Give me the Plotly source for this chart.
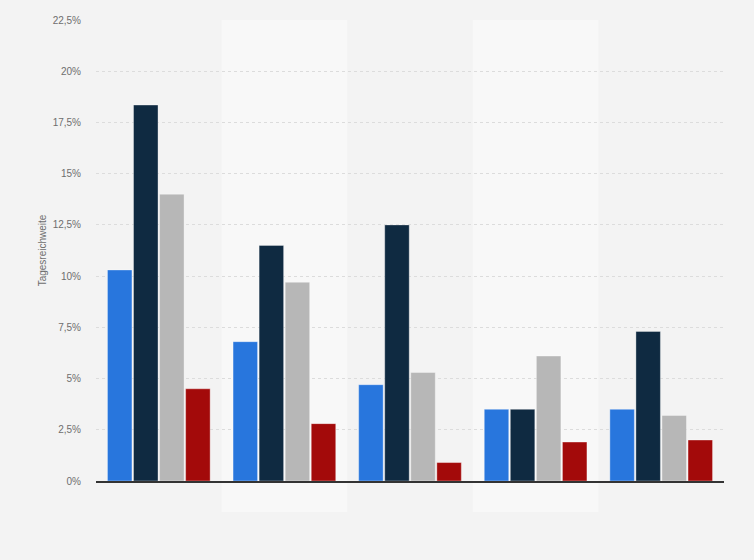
import plotly.graph_objects as go

# five groups, four series each (values in percent)
groups = ['1', '2', '3', '4', '5']
series_names = ['Reihe 1', 'Reihe 2', 'Reihe 3', 'Reihe 4']
series_colors = ['#2876dd', '#0f2a41', '#b7b7b7', '#a30a0a']

blue_vals = [10.3, 6.8, 4.7, 3.5, 3.5]
navy_vals = [18.35, 11.5, 12.5, 3.5, 7.3]
gray_vals = [14.0, 9.7, 5.3, 6.1, 3.2]
red_vals = [4.5, 2.8, 0.9, 1.9, 2.0]

y_ticks = [0, 2.5, 5, 7.5, 10, 12.5, 15, 17.5, 20, 22.5]
y_labels = ['0%', '2,5%', '5%', '7,5%', '10%', '12,5%', '15%', '17,5%', '20%', '22,5%']


def build_figure() -> go.Figure:
    fig = go.Figure()

    for name, color, vals in zip(series_names, series_colors,
                                 [blue_vals, navy_vals, gray_vals, red_vals]):
        fig.add_trace(go.Bar(
            x=groups,
            y=vals,
            name=name,
            marker=dict(color=color, line=dict(color='rgba(255,255,255,0.35)', width=1)),
        ))

    # lighter bands behind every other group
    for i in range(len(groups)):
        if i % 2 == 1:
            fig.add_shape(
                type='rect', xref='x', yref='paper',
                x0=i - 0.5, x1=i + 0.5, y0=-0.067, y1=1.0,
                fillcolor='#f8f8f8', line=dict(width=0), layer='below'
            )

    fig.update_layout(
        width=754, height=560,
        paper_bgcolor='#f3f3f3',
        plot_bgcolor='#f3f3f3',
        margin=dict(l=96, r=30, t=20, b=79),
        barmode='group',
        bargap=0.17,
        bargroupgap=0.06,
        showlegend=False,
        font=dict(family='Arial, Liberation Sans, sans-serif', size=10, color='#6e6e6e'),
    )
    fig.update_xaxes(
        showticklabels=False,
        showgrid=False,
        showline=True, linecolor='#333333', linewidth=1.5,
        ticks='',
    )
    fig.update_yaxes(
        range=[0, 22.5],
        tickvals=y_ticks,
        ticktext=y_labels,
        showgrid=True, gridcolor='#dcdcdc', griddash='dot', gridwidth=1,
        zeroline=False,
        ticks='', ticklabelstandoff=14,
        title=dict(text='Tagesreichweite', font=dict(size=10, color='#6e6e6e'), standoff=4),
    )
    return fig


if __name__ == '__main__':
    fig = build_figure()
    # drop the default page margin so the chart fills the window
    fig.write_html('out.html', config={'displayModeBar': False},
                   post_script="document.body.style.margin='0';")
